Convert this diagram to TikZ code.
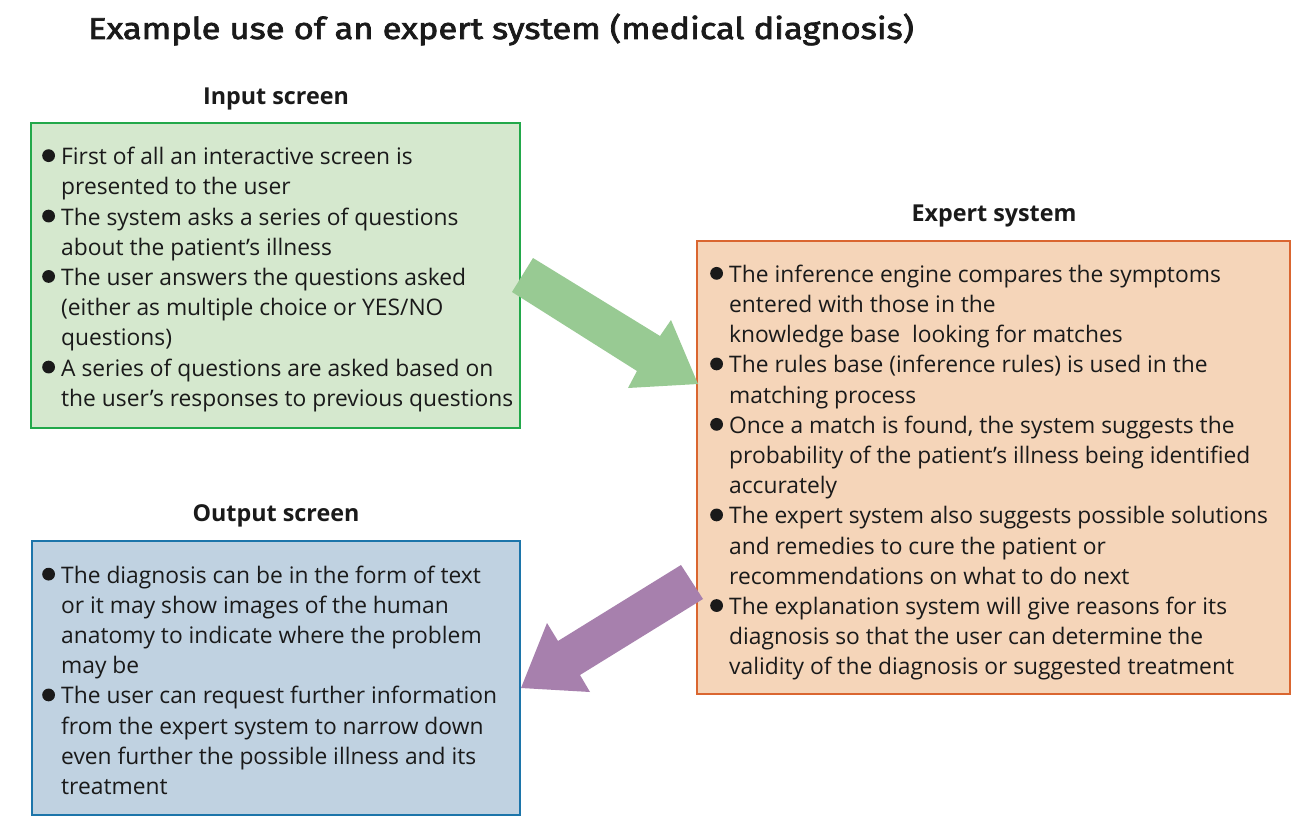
\documentclass[tikz,border=0pt]{standalone}
\usepackage{fontspec}
\setmainfont{Open Sans}
\newfontfamily\titlefont[FakeStretch=1.15,FakeBold=2.4]{Fira Sans}
\definecolor{gfill}{HTML}{D5E8CE}
\definecolor{gline}{HTML}{22A84A}
\definecolor{ofill}{HTML}{F5D5B9}
\definecolor{oline}{HTML}{DA6630}
\definecolor{bfill}{HTML}{C0D2E1}
\definecolor{bline}{HTML}{1C75AA}
\definecolor{garrow}{HTML}{98CA93}
\definecolor{parrow}{HTML}{A780AD}
\definecolor{ink}{HTML}{1A1A1A}
\newcommand{\bulletdot}{\begin{tikzpicture}[baseline=-9pt,x=1pt,y=1pt]\fill[ink] (0,0) circle[radius=6.4pt];\end{tikzpicture}}
\newcommand{\bl}[1]{\makebox[19pt][l]{\bulletdot}#1\\}
\newcommand{\cl}[1]{\hspace*{19pt}#1\\}
\tikzset{
  panel/.style={line width=2.4pt, inner sep=0pt},
  heading/.style={font=\bfseries\fontsize{23.3}{26}\selectfont, anchor=base, inner sep=0pt, text=ink},
  body/.style={font=\fontsize{22.8}{30.2}\selectfont, align=left, anchor=north west, inner sep=0pt, text=ink},
}
\begin{document}
\begin{tikzpicture}[x=1pt,y=-1pt]
\useasboundingbox (0,0) rectangle (1310,832);
\fill[white] (0,0) rectangle (1310,832);
\node[anchor=base west, inner sep=0pt, text=ink, font=\titlefont\fontsize{30}{36}\selectfont] (title) at (88,39) {Example use of an expert system (medical diagnosis)};

\draw[panel, draw=gline, fill=gfill] (31,123) rectangle (520,428);
\draw[panel, draw=oline, fill=ofill] (697,241) rectangle (1290,694);
\draw[panel, draw=bline, fill=bfill] (32,541) rectangle (520,815);

\node[heading] (inh) at (276,105) {Input screen};
\node[heading] (exh) at (994,222) {Expert system};
\node[heading] (outh) at (276,521) {Output screen};

\node[body] (intext) at (42,147) {%
\bl{First of all an interactive screen is}
\cl{presented to the user}
\bl{The system asks a series of questions}
\cl{about the patient’s illness}
\bl{The user answers the questions asked}
\cl{(either as multiple choice or YES/NO}
\cl{questions)}
\bl{A series of questions are asked based on}
\cl{the user’s responses to previous questions}};

\node[body] (extext) at (710,264.7) {%
\bl{The inference engine compares the symptoms}
\cl{entered with those in the}
\cl{knowledge base\ \ looking for matches}
\bl{The rules base (inference rules) is used in the}
\cl{matching process}
\bl{Once a match is found, the system suggests the}
\cl{probability of the patient’s illness being identified}
\cl{accurately}
\bl{The expert system also suggests possible solutions}
\cl{and remedies to cure the patient or}
\cl{recommendations on what to do next}
\bl{The explanation system will give reasons for its}
\cl{diagnosis so that the user can determine the}
\cl{validity of the diagnosis or suggested treatment}};

\node[body] (outtext) at (42,565.5) {%
\bl{The diagnosis can be in the form of text}
\cl{or it may show images of the human}
\cl{anatomy to indicate where the problem}
\cl{may be}
\bl{The user can request further information}
\cl{from the expert system to narrow down}
\cl{even further the possible illness and its}
\cl{treatment}};

\fill[garrow] (533,258) -- (660,336) -- (671,320) -- (698,384) -- (628,388) -- (637,371) -- (512,292) -- cycle;
\fill[parrow] (681,565) -- (558,641) -- (547,623) -- (521,688) -- (590,692) -- (580,675) -- (703,599) -- cycle;
\end{tikzpicture}
\end{document}
